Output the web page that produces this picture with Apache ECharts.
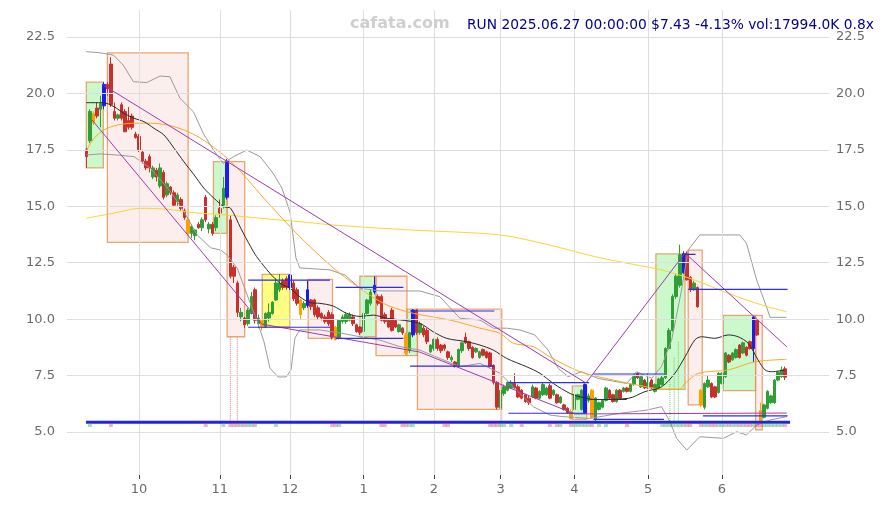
<!DOCTYPE html>
<html><head><meta charset="utf-8">
<script src="https://cdn.jsdelivr.net/npm/echarts@6/dist/echarts.min.js"></script>
<style>html,body{margin:0;padding:0;background:#fff}#c{width:884px;height:505px}</style>
</head><body><div id="c"></div>
<script>
// ---------- data ----------
const holidays = ['2024-11-28','2024-12-25','2025-01-01','2025-01-09','2025-01-20','2025-02-17','2025-04-18','2025-05-26','2025-06-19'];
const firstDay = '2024-09-10', lastDay = '2025-06-27';

const opens = [
17.5,17.9,19.1,19.35,19.3,19.45,20.4,21.3,19.2,18.9,
19.5,19.2,18.8,19.0,18.2,18.1,17.4,17.0,17.2,16.3,
16.6,15.9,16.5,15.5,15.85,15.6,15.2,15.3,14.8,14.4,
13.8,13.7,14.2,14.05,15.4,14.0,14.2,14.05,14.9,15.05,
15.4,14.4,12.3,11.6,10.1,10.05,9.8,10.25,11.3,9.8,
9.95,9.65,10.05,10.25,10.85,11.3,11.7,11.8,11.4,11.6,
11.3,10.85,10.5,10.6,10.85,10.85,10.5,10.25,10.1,10.3,
10.2,9.65,9.2,9.9,9.9,9.95,10.1,9.75,9.65,9.45,
10.25,10.7,11.2,11.0,11.0,10.2,9.95,10.4,9.95,9.45,
9.6,9.3,8.6,9.3,10.4,9.4,9.6,9.5,8.55,8.7,
9.1,8.85,8.85,8.55,8.2,8.1,7.9,8.6,9.2,9.0,
8.75,8.55,8.3,8.65,8.55,8.5,7.95,7.2,6.05,6.7,
6.85,6.95,7.15,7.0,6.85,6.65,6.5,6.55,6.95,6.5,
6.65,6.65,7.05,6.65,6.65,6.3,6.2,6.05,5.9,6.0,
6.45,6.0,5.85,6.4,6.85,5.55,6.0,6.1,6.4,6.85,
6.65,6.35,6.85,6.8,6.95,6.8,7.1,7.6,7.0,7.3,
6.95,7.3,6.8,6.95,7.1,7.4,8.7,9.5,11.0,11.5,
12.05,12.9,11.85,11.3,11.4,6.85,6.1,7.0,7.15,7.0,
6.75,7.15,7.45,8.4,8.2,8.3,8.85,8.5,8.75,9.0,
8.7,9.95,5.95,5.65,6.05,6.3,6.3,7.3,7.45,7.8];
const closes = [
17.2,19.2,18.7,19.0,19.55,20.4,20.2,19.5,18.9,19.05,
18.9,18.3,18.5,18.5,18.05,17.5,17.0,16.7,16.7,16.7,
16.3,16.7,15.4,16.0,15.6,15.05,15.5,14.9,14.5,13.8,
14.1,13.95,14.05,14.4,14.4,14.2,13.8,14.5,14.7,15.8,
17.0,11.9,11.9,10.3,10.3,9.75,10.4,11.0,9.95,10.05,
9.65,10.25,10.3,10.75,11.6,11.6,11.4,11.4,11.95,10.9,
10.7,10.2,10.7,11.3,10.55,10.2,10.1,10.05,9.9,9.8,
9.2,9.1,9.95,10.1,10.2,10.2,9.8,9.45,9.4,10.25,
10.85,11.2,11.5,10.7,9.95,9.9,9.65,9.5,9.65,9.75,
9.4,8.5,9.4,10.4,9.4,9.8,9.3,9.0,8.85,9.1,
8.7,8.6,8.7,8.3,8.3,7.9,8.65,8.95,8.95,8.7,
8.3,8.7,8.55,8.4,8.3,7.9,7.2,6.1,6.85,7.0,
7.2,7.2,6.95,6.55,6.5,6.35,6.3,7.0,6.5,6.8,
7.1,6.95,6.5,6.85,6.3,6.55,6.0,5.85,5.6,6.65,
6.65,6.85,7.1,6.6,5.65,6.5,6.3,6.4,6.95,6.5,
6.35,6.85,6.5,6.95,6.8,7.1,7.5,7.4,7.45,6.95,
7.2,6.95,7.1,7.35,7.4,8.7,9.5,11.0,11.9,12.85,
12.9,11.75,11.3,11.6,10.55,6.2,7.15,7.3,6.55,6.55,
7.6,7.6,8.5,8.1,8.5,8.65,8.3,8.95,8.4,8.7,
10.1,9.3,5.45,6.2,6.8,6.6,7.3,7.65,7.75,7.43];
const lows = [
16.7,17.8,18.6,18.9,18.5,19.3,19.9,19.4,18.8,18.8,
18.8,18.3,18.4,18.4,18.0,17.4,16.9,16.6,16.5,16.2,
16.1,15.8,15.3,15.4,15.5,15.0,15.0,14.8,14.4,13.7,
13.6,13.5,14.0,13.9,14.3,13.8,13.7,13.9,14.5,14.9,
15.3,11.8,11.6,10.1,9.9,9.6,9.7,10.2,9.8,9.6,
9.5,9.6,9.9,10.2,10.8,11.2,11.3,11.3,11.3,10.8,
10.6,10.0,10.4,10.5,10.4,10.1,10.0,9.95,9.8,9.7,
9.1,9.05,9.1,9.8,9.8,9.9,9.7,9.4,9.3,9.4,
10.2,10.6,11.1,10.6,9.9,9.8,9.6,9.45,9.6,9.4,
9.3,8.4,8.5,9.2,9.3,9.3,9.2,8.9,8.5,8.6,
8.6,8.5,8.6,8.2,8.1,7.85,7.85,8.5,8.9,8.6,
8.25,8.5,8.25,8.35,8.25,7.85,7.1,6.0,5.9,6.6,
6.8,6.9,6.9,6.5,6.45,6.3,6.2,6.5,6.45,6.45,
6.6,6.6,6.45,6.6,6.25,6.25,5.95,5.8,5.55,5.95,
6.4,5.95,5.8,6.3,5.6,5.45,5.95,6.05,6.35,6.45,
6.3,6.3,6.45,6.75,6.75,6.75,7.05,7.35,6.95,6.9,
6.9,6.9,6.75,6.9,7.05,7.35,8.65,9.45,10.9,11.4,
12.0,11.7,11.2,11.25,10.5,6.1,6.0,6.95,6.5,6.5,
6.7,7.1,7.4,8.05,8.15,8.25,8.25,8.45,8.35,8.65,
8.1,9.25,5.35,5.6,6.0,6.25,6.25,7.25,7.4,7.3];
const highs = [
17.6,19.3,19.2,19.6,19.9,20.5,20.5,21.6,19.6,19.1,
19.6,19.3,19.4,19.1,18.3,18.2,17.5,17.1,17.3,16.8,
16.7,16.9,16.6,16.1,15.9,15.7,15.6,15.4,14.9,14.5,
14.2,14.0,14.3,14.5,15.5,14.3,14.3,14.6,15.3,16.3,
17.1,14.6,12.4,11.7,10.5,10.1,10.5,11.2,11.4,10.2,
10.0,10.3,10.7,10.8,11.8,12.0,11.8,11.9,12.0,11.7,
11.4,10.9,10.8,11.7,10.9,10.9,10.6,10.3,10.2,10.4,
10.3,9.7,10.0,10.2,10.3,10.3,10.2,9.8,9.7,10.3,
10.9,11.3,11.9,11.1,11.1,10.3,10.0,10.5,10.0,9.8,
9.65,9.4,9.45,10.45,10.45,9.9,9.7,9.6,8.9,9.15,
9.2,8.9,8.9,8.6,8.4,8.15,8.7,9.0,9.4,9.05,
8.8,8.75,8.6,8.7,8.6,8.55,8.0,7.25,6.9,7.1,
7.25,7.3,7.6,7.1,6.9,6.7,6.6,7.1,7.0,6.85,
7.2,7.0,7.15,6.9,6.7,6.6,6.25,6.1,6.0,6.7,
6.7,6.9,7.15,6.7,6.9,6.55,6.35,6.45,7.0,6.9,
6.7,6.9,6.9,7.0,7.0,7.15,7.55,7.65,7.5,7.35,
7.6,7.35,7.15,7.4,7.5,8.75,9.6,11.1,12.0,13.3,
13.0,13.0,11.9,11.7,11.45,6.9,7.2,7.5,7.2,7.05,
7.65,7.65,8.55,8.45,8.55,8.7,8.9,9.0,8.8,9.05,
10.15,10.0,6.3,6.25,6.85,6.65,7.35,7.7,7.9,7.9];

const blueIdx = [5,40,58,63,82,93,142,170,190];
const orangeIdx = [2,29,50,61,71,91,138,144,175,192];
const volIdx = [1,7,34,39,41,42,43,44,45,46,47,48,54,70,71,72,84,85,90,91,92,93,102,103,115,116,117,118,119,121,124,
  132,134,135,138,139,140,141,142,143,144,146,148,154,164,165,166,167,168,169,170,171,172,175,176,177,178,179,180,
  181,182,183,184,185,186,187,188,189,190,191,192,193,194,195,196,197,198,199];

const yTicks = [5,7.5,10,12.5,15,17.5,20,22.5];

// lines read as [bar index, price]
const maBlack = [[0,19.59],[4.8,19.59],[7.9,19.41],[10.7,19.12],[13.6,18.9],[16.4,18.75],[19.3,18.45],[22.1,18.16],[25,17.57],[27.8,16.97],[30.7,16.39],[33.5,15.8],[36.4,15.35],[39.2,14.98],[41.1,14.91],[44,14.02],[46.8,13.21],[48.5,12.77],[52.3,12.03],[55.2,11.59],[58,11.37],[60.8,10.99],[63.7,10.73],[66.5,10.7],[70.3,10.58],[74.1,10.26],[77.9,10.12],[81.7,10.18],[85.5,10.04],[89.3,9.97],[95,9.81],[98.8,9.44],[102.6,9.15],[108.3,9.0],[112.1,8.85],[115.9,8.63],[119.7,8.26],[125.4,7.89],[129.2,7.6],[133,7.15],[137.7,6.71],[140.6,6.56],[144.8,6.44],[154.3,6.49],[159.1,6.79],[163.8,7.0],[167.6,7.6],[170.5,8.33],[173.3,9.08],[175.2,9.22],[179,9.15],[182.8,9.3],[185.6,9.22],[188.5,8.93],[191.3,8.19],[193.3,7.75],[195.2,7.67],[198.9,7.75]];
const maOrange = [[0,17.45],[2.2,18.01],[5,18.38],[8.8,18.6],[13.6,18.68],[18.3,18.68],[23.1,18.6],[27.8,18.38],[32.6,18.01],[37.3,17.49],[40.1,17.13],[44,16.53],[50.6,15.35],[60.8,13.65],[72.2,12.03],[84.6,10.7],[93.1,10.26],[103.6,9.96],[112.1,9.6],[117.8,9.37],[121.6,8.93],[127.3,8.78],[132,8.33],[140.6,7.67],[150.1,7.3],[159.6,7.0],[164.3,6.89],[169,6.89],[170.5,7.15],[174.3,7.6],[182.8,7.75],[190.4,8.11],[199.4,8.22]];
const maYellow = [[0,14.47],[7.7,14.69],[15.3,14.91],[22.9,14.87],[30.5,14.72],[40,14.61],[55.2,14.39],[60.8,14.32],[70.3,14.17],[92.2,13.95],[117.8,13.73],[132,13.28],[144.8,12.77],[154.3,12.47],[163.8,12.18],[173.3,11.73],[182.8,11.14],[192.3,10.63],[199.4,10.33]];
const bandUpper = [[0,21.85],[3.9,21.8],[7.7,21.7],[10.5,21.26],[13.4,20.52],[17.2,20.48],[21,20.77],[23.8,20.74],[26.7,19.78],[30.5,19.19],[33.3,18.23],[36.2,17.49],[39,16.9],[41.9,17.2],[45.7,17.49],[49.5,17.2],[53.2,16.46],[55.7,15.81],[58,14.75],[59.7,12.71],[60.8,12.27],[69.4,12.18],[73.7,11.95],[77.9,11.37],[83.6,11.25],[95,11.25],[100.7,10.99],[106.4,10.04],[112.1,9.96],[115.9,9.6],[119.7,9.6],[123.5,9.52],[127.7,9.3],[131.5,8.63],[134.4,7.82],[137.2,7.45],[141,7.67],[145.8,7.37],[153.9,7.15],[156.7,7.67],[161,7.38],[163.8,7.9],[166.7,9.08],[169.5,11.29],[171.4,13.06],[174.7,13.73],[186.1,13.73],[188,13.36],[190.9,11.73],[193.7,10.55],[194.7,10.08],[199.4,10.08]];
const bandLower = [[0,17.27],[3.9,17.32],[8.8,17.27],[13.6,17.2],[18.3,16.68],[24,15.65],[27.8,14.76],[31.6,13.73],[35.4,13.16],[38.3,13.06],[40.1,12.84],[43,12.25],[45.8,11.07],[48.7,9.89],[50.6,9.0],[52.3,7.83],[54.6,7.44],[56.9,7.44],[58.3,7.75],[59.4,9.16],[60.8,9.52],[66.5,9.52],[72.2,9.39],[77.9,9.22],[83.6,9.07],[89.3,8.78],[95,8.63],[100.7,8.26],[106.4,7.89],[112.1,8.04],[115.9,7.75],[117.8,7.6],[122.5,6.86],[127.3,6.12],[132,5.75],[135.8,5.68],[143.4,5.6],[151.9,5.83],[159.6,5.97],[163.8,6.12],[166.2,5.46],[168.1,4.72],[171,4.2],[174.7,4.79],[181.4,4.72],[185.2,5.01],[188,4.87],[190.9,5.31],[194.7,5.53],[199.4,5.68]];
const trendUpper = [[4.84,20.37],[142.3,7.17],[170.5,12.93],[199.5,8.77]];
const trendLower = [[1.65,18.82],[50.0,9.78],[95.0,8.54],[139.1,5.80],[199.5,5.84]];

const boxFrom   = [0,6.0,36.2,40.1,50.1,63.2,77.9,82.5,91.3,94.3,138.4,162.2,171.4,181.4,190.6];
const boxTo     = [4.84,29.0,40.1,45.1,58.0,70.1,82.5,91.3,94.3,118.3,142.5,170.5,175.4,190.6,192.5];
const boxTop    = [20.5,21.8,16.98,16.98,11.98,11.76,11.9,11.9,10.44,10.44,7.04,12.89,13.06,10.17,10.17];
const boxBottom = [16.7,13.4,13.8,9.22,9.66,9.15,9.22,8.38,8.38,6.0,5.56,6.89,6.2,6.83,5.1];
const boxKind   = ['up','down','up','down','flat','down','up','down','up','down','up','up','down','up','down'];

const segFrom  = [46.1,46.1,71.0,71.0,92.2,92.2,120.2,120.2,144.4,144.4,170.5,171.4,175.6];
const segTo    = [69.4,69.4,90.3,90.3,116.2,116.2,143.2,142.5,164.5,164.5,173.5,199.7,199.7];
const segLevel = [11.73,9.64,11.41,9.15,10.36,7.92,7.19,5.83,7.57,5.56,12.87,11.32,5.71];
const blackSegFrom = [143.4], blackSegTo = [153.9], blackSegLevel = [6.44];

const dropAt = [41,43,118.3], dropTop = [9.22,9.22,6.0];
const riseAt = [166.2,167.4,168.6], riseTop = [7.3,8.3,9.0];
const baseLevel = 5.43, volLevel = 5.31, stemBottom = 5.4;

// ---------- build ----------
function tradingDays(a, b, hol) {
  const out = []; const h = new Set(hol);
  let d = new Date(a + 'T00:00:00Z'); const e = new Date(b + 'T00:00:00Z');
  while (d <= e) {
    const wd = d.getUTCDay(); const s = d.toISOString().slice(0,10);
    if (wd !== 0 && wd !== 6 && !h.has(s)) out.push(s);
    d = new Date(d.getTime() + 86400000);
  }
  return out;
}
const dates = tradingDays(firstDay, lastDay, holidays);
const PADL = 5, PADR = 12;
const cats = [];
for (let i = 0; i < PADL; i++) cats.push('pl' + i);
dates.forEach(d => cats.push(d));
for (let i = 0; i < PADR; i++) cats.push('pr' + i);
const monthStart = [];
dates.forEach((d, i) => { if (i > 0 && d.slice(5,7) !== dates[i-1].slice(5,7)) monthStart.push(i); });
const labelCat = new Set(monthStart.map(i => i + PADL));

const UP = '#2f9e36', DOWN = '#c9302c', BLUE = '#1c1cf0', ORANGE = '#ffa000';
const blueSet = new Set(blueIdx), orangeSet = new Set(orangeIdx);
const candleData = dates.map((d, i) => {
  const item = { value: [d, opens[i], closes[i], lows[i], highs[i]] };
  let c = null;
  if (blueSet.has(i)) c = BLUE; else if (orangeSet.has(i)) c = ORANGE;
  if (c) item.itemStyle = { color: c, color0: c, borderColor: c, borderColor0: c };
  return item;
});

function segs(from, to, lvl) {
  const out = [];
  from.forEach((f, k) => { out.push([f, lvl[k]], [to[k], lvl[k]], [to[k], '-']); });
  return out;
}
function stems(at, top) {
  const out = [];
  at.forEach((x, k) => { out.push([x, top[k]], [x, stemBottom], [x, '-']); });
  return out;
}
const boxStyle = {
  up:   { color: 'rgba(120,240,120,0.38)', borderColor: 'rgba(228,145,80,0.8)' },
  down: { color: 'rgba(250,205,205,0.35)', borderColor: 'rgba(228,145,80,0.8)' },
  flat: { color: 'rgba(255,255,90,0.75)',  borderColor: 'rgba(228,145,80,0.8)' }
};
const areas = boxFrom.map((f, k) => [
  { xAxis: f, yAxis: boxTop[k], itemStyle: Object.assign({ borderWidth: 1.3 }, boxStyle[boxKind[k]]) },
  { xAxis: boxTo[k], yAxis: boxBottom[k] }
]);

const volData = volIdx.map(i => ({ value: [i, volLevel], itemStyle: { color: closes[i] >= opens[i] ? 'rgba(60,160,90,0.5)' : 'rgba(205,70,95,0.5)' } }));

const lineCommon = { type: 'line', xAxisIndex: 1, yAxisIndex: 0, showSymbol: false, symbol: 'none', silent: true, animation: false };
const axisLabelStyle = { color: '#6a6a6a', fontSize: 13, fontFamily: 'DejaVu Sans' };

const chart = echarts.init(document.getElementById('c'), null, { renderer: 'canvas' });
chart.setOption({
  animation: false,
  backgroundColor: '#ffffff',
  title: [
    { text: 'cafata.com', left: 350, top: 16, padding: 0, textStyle: { color: '#cfcfcf', fontSize: 16, fontWeight: 'bold', fontFamily: 'DejaVu Sans' } },
    { text: 'RUN 2025.06.27 00:00:00 $7.43 -4.13% vol:17994.0K 0.8x', left: 467, top: 18, padding: 0, textStyle: { color: '#00008b', fontSize: 13.8, fontWeight: 'normal', fontFamily: 'DejaVu Sans' } }
  ],
  grid: { left: 67, right: 55, top: 10, bottom: 30, containLabel: false },
  xAxis: [
    { type: 'category', data: cats, boundaryGap: true,
      axisLine: { show: false },
      axisTick: { show: true, alignWithLabel: true, length: 4, interval: (i) => labelCat.has(i), lineStyle: { color: '#444' } },
      axisLabel: { interval: (i) => labelCat.has(i), margin: 8, fontSize: 13, color: '#6a6a6a', fontFamily: 'DejaVu Sans',
        formatter: (v) => (v && v.length === 10) ? String(parseInt(v.slice(5,7), 10)) : '' },
      splitLine: { show: false } },
    { type: 'value', min: -PADL - 0.5, max: dates.length + PADR - 0.5, show: false }
  ],
  yAxis: [
    { type: 'value', min: 3.095, max: 23.696, position: 'left', axisLine: { show: false }, axisTick: { show: false },
      splitLine: { show: false },
      axisLabel: Object.assign({ customValues: yTicks, margin: 12, formatter: v => v.toFixed(1) }, axisLabelStyle) },
    { type: 'value', min: 3.095, max: 23.696, position: 'right', axisLine: { show: false }, axisTick: { show: false },
      splitLine: { show: false },
      axisLabel: Object.assign({ customValues: yTicks, margin: 7, formatter: v => v.toFixed(1) }, axisLabelStyle) }
  ],
  series: [
    Object.assign({}, lineCommon, { name: 'grid', data: [], z: 0,
      markLine: { silent: true, symbol: ['none','none'], label: { show: false }, animation: false,
        lineStyle: { color: '#dedede', width: 1, type: 'solid' },
        data: yTicks.map(v => ({ yAxis: v })).concat(monthStart.map(i => ({ xAxis: i }))) } }),
    Object.assign({}, lineCommon, { name: 'boxes', data: [], z: 1,
      markArea: { silent: true, animation: false, data: areas } }),
    { name: 'price', type: 'candlestick', xAxisIndex: 0, yAxisIndex: 0, z: 3, barWidth: 3,
      encode: { x: 0, y: [1, 2, 3, 4] }, data: candleData, animation: false,
      itemStyle: { color: UP, color0: DOWN, borderColor: UP, borderColor0: DOWN, borderWidth: 1 } },
    Object.assign({}, lineCommon, { name: 'bandUpper', data: bandUpper, z: 4, lineStyle: { color: '#9a9a9a', width: 1 } }),
    Object.assign({}, lineCommon, { name: 'bandLower', data: bandLower, z: 4, lineStyle: { color: '#9a9a9a', width: 1 } }),
    Object.assign({}, lineCommon, { name: 'maYellow', data: maYellow, z: 4, smooth: 0.3, lineStyle: { color: '#ffd22e', width: 1 } }),
    Object.assign({}, lineCommon, { name: 'maOrange', data: maOrange, z: 4, smooth: 0.3, lineStyle: { color: '#ffa726', width: 1 } }),
    Object.assign({}, lineCommon, { name: 'maBlack', data: maBlack, z: 4, smooth: 0.3, lineStyle: { color: '#2a2a2a', width: 1 } }),
    Object.assign({}, lineCommon, { name: 'trendUpper', data: trendUpper, z: 5, lineStyle: { color: '#a03ab0', width: 1 } }),
    Object.assign({}, lineCommon, { name: 'trendLower', data: trendLower, z: 5, lineStyle: { color: '#a03ab0', width: 1 } }),
    Object.assign({}, lineCommon, { name: 'levels', data: segs(segFrom, segTo, segLevel), z: 5, connectNulls: false, lineStyle: { color: '#2d2df0', width: 1.2 } }),
    Object.assign({}, lineCommon, { name: 'blackLevels', data: segs(blackSegFrom, blackSegTo, blackSegLevel), z: 5, connectNulls: false, lineStyle: { color: '#333', width: 1.2 } }),
    Object.assign({}, lineCommon, { name: 'dropStems', data: stems(dropAt, dropTop), z: 2, connectNulls: false, lineStyle: { color: '#e07a7a', width: 1, type: 'dotted' } }),
    Object.assign({}, lineCommon, { name: 'riseStems', data: stems(riseAt, riseTop), z: 2, connectNulls: false, lineStyle: { color: '#6cc46c', width: 1, type: 'dotted' } }),
    Object.assign({}, lineCommon, { name: 'base', data: [[-0.1, baseLevel], [200.4, baseLevel]], z: 6, lineStyle: { color: '#2323e0', width: 3 } }),
    { name: 'vol', type: 'scatter', xAxisIndex: 1, yAxisIndex: 0, symbol: 'rect', symbolSize: [4, 4], z: 7, silent: true, animation: false, data: volData }
  ]
});
</script>
</body></html>
